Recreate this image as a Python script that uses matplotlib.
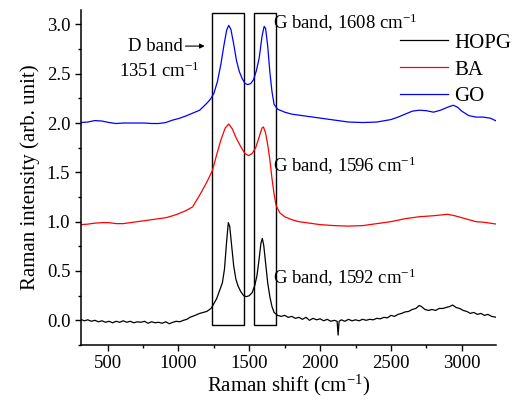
import numpy as np
import matplotlib
matplotlib.use('Agg')
import matplotlib.pyplot as plt
from matplotlib.patches import Rectangle
from matplotlib.ticker import MultipleLocator

plt.rcParams['font.family'] = ['Liberation Serif', 'DejaVu Serif']
plt.rcParams['mathtext.fontset'] = 'custom'
plt.rcParams['mathtext.rm'] = 'Liberation Serif'
plt.rcParams['mathtext.it'] = 'Liberation Serif:italic'

# spectra (Raman shift in cm-1, offset intensities)
hopg_shift = [310, 335, 360, 385, 410, 435, 460, 485, 510, 535, 560, 585, 610, 635, 660,
              685, 710, 735, 760, 785, 810, 835, 860, 885, 910, 935, 960, 985, 1010, 1035,
              1060, 1080, 1100, 1150, 1200, 1230, 1250, 1270, 1290, 1310, 1325, 1340, 1352,
              1362, 1375, 1390, 1405, 1420, 1440, 1460, 1480, 1500, 1520, 1540, 1555, 1570,
              1582, 1592, 1602, 1615, 1630, 1645, 1660, 1675, 1700, 1725, 1750, 1775, 1800,
              1825, 1850, 1875, 1900, 1925, 1950, 1975, 2000, 2025, 2050, 2075, 2100, 2120,
              2127, 2134, 2150, 2175, 2200, 2225, 2250, 2275, 2300, 2325, 2350, 2375, 2400,
              2425, 2450, 2475, 2500, 2525, 2550, 2575, 2600, 2625, 2650, 2675, 2700, 2715,
              2740, 2765, 2790, 2815, 2840, 2865, 2890, 2915, 2935, 2960, 2985, 3010, 3035,
              3060, 3085, 3110, 3135, 3160, 3185, 3210, 3245]
hopg_int = [0.01, -0.005, 0.005, -0.01, 0.0, -0.015, -0.005, -0.02, -0.01, -0.025, -0.01,
            -0.02, -0.005, -0.02, -0.01, -0.025, -0.015, -0.02, -0.01, -0.03, -0.015, -0.025,
            -0.02, -0.03, -0.015, -0.035, -0.02, -0.01, -0.015, 0.0, 0.01, 0.03, 0.04, 0.07,
            0.09, 0.12, 0.17, 0.22, 0.30, 0.38, 0.52, 0.80, 0.99, 0.95, 0.76, 0.55, 0.42, 0.35,
            0.29, 0.25, 0.24, 0.25, 0.28, 0.36, 0.46, 0.63, 0.78, 0.83, 0.76, 0.58, 0.38, 0.24,
            0.14, 0.08, 0.05, 0.04, 0.05, 0.03, 0.04, 0.02, 0.03, 0.01, 0.03, 0.0, 0.02, 0.005,
            0.015, -0.005, 0.01, -0.01, 0.0, -0.01, -0.15, -0.01, 0.005, -0.01, 0.01, -0.005,
            0.005, -0.005, 0.01, 0.0, 0.01, 0.005, 0.02, 0.015, 0.03, 0.025, 0.05, 0.04, 0.06,
            0.07, 0.085, 0.09, 0.11, 0.12, 0.15, 0.14, 0.11, 0.10, 0.11, 0.10, 0.12, 0.12, 0.13,
            0.14, 0.155, 0.13, 0.12, 0.10, 0.09, 0.07, 0.08, 0.06, 0.07, 0.05, 0.06, 0.04, 0.03]

ba_shift = [310, 360, 410, 460, 510, 560, 610, 660, 710, 760, 810, 860, 910, 960, 1000, 1050,
            1100, 1150, 1200, 1240, 1270, 1300, 1330, 1355, 1380, 1410, 1440, 1470, 1495, 1520,
            1545, 1570, 1590, 1600, 1615, 1630, 1645, 1660, 1675, 1690, 1715, 1750, 1800, 1850,
            1900, 1950, 2000, 2100, 2200, 2300, 2400, 2500, 2600, 2700, 2800, 2900, 2950, 3000,
            3050, 3100, 3150, 3200, 3245]
ba_int = [0.97, 0.975, 0.985, 0.99, 0.99, 0.98, 0.98, 0.99, 1.0, 1.01, 1.02, 1.03, 1.04, 1.06,
          1.08, 1.11, 1.15, 1.27, 1.40, 1.52, 1.68, 1.83, 1.95, 1.99, 1.94, 1.84, 1.76, 1.69,
          1.67, 1.69, 1.75, 1.86, 1.95, 1.96, 1.90, 1.78, 1.63, 1.44, 1.28, 1.16, 1.09, 1.05,
          1.02, 1.0, 0.99, 0.98, 0.97, 0.96, 0.955, 0.96, 0.98, 1.0, 1.03, 1.05, 1.06, 1.075,
          1.06, 1.04, 1.02, 1.0, 0.995, 0.985, 0.975]

go_shift = [310, 360, 410, 460, 510, 560, 610, 660, 710, 760, 810, 860, 910, 960, 1000, 1050,
            1100, 1150, 1200, 1225, 1250, 1275, 1300, 1320, 1340, 1355, 1370, 1390, 1410, 1430,
            1450, 1470, 1490, 1510, 1530, 1550, 1570, 1590, 1605, 1615, 1630, 1645, 1660, 1675,
            1700, 1750, 1800, 1850, 1900, 1950, 2000, 2100, 2200, 2300, 2400, 2500, 2550, 2600,
            2650, 2700, 2750, 2800, 2850, 2900, 2940, 2970, 3000, 3050, 3100, 3150, 3200, 3245]
go_int = [2.005, 2.01, 2.025, 2.02, 2.005, 1.995, 2.0, 2.0, 2.0, 2.0, 1.995, 1.995, 2.005, 2.03,
          2.045, 2.07, 2.10, 2.13, 2.20, 2.24, 2.30, 2.42, 2.60, 2.78, 2.94, 2.99, 2.95, 2.80,
          2.63, 2.52, 2.45, 2.40, 2.39, 2.40, 2.44, 2.53, 2.66, 2.88, 2.98, 2.96, 2.78, 2.52,
          2.32, 2.19, 2.14, 2.11, 2.09, 2.08, 2.07, 2.06, 2.05, 2.03, 2.01, 2.005, 2.01, 2.035,
          2.06, 2.09, 2.12, 2.13, 2.125, 2.11, 2.13, 2.16, 2.18, 2.16, 2.12, 2.075, 2.06, 2.06,
          2.05, 2.02]

# band boxes (x range in cm-1)
d_box = (1239, 1465)
g_box = (1533, 1686)
box_y = (-0.05, 3.12)

fig = plt.figure(figsize=(5.31, 4.03), dpi=100)
ax = fig.add_axes([0.152, 0.144, 0.783, 0.831])

ax.plot(hopg_shift, hopg_int, color='k', lw=0.9, label='HOPG')
ax.plot(ba_shift, ba_int, color='r', lw=0.9, label='BA')
ax.plot(go_shift, go_int, color='b', lw=0.9, label='GO')

for x0, x1 in (d_box, g_box):
    ax.add_patch(Rectangle((x0, box_y[0]), x1 - x0, box_y[1] - box_y[0],
                           fill=False, edgecolor='k', lw=1.0))

ax.set_xlim(310, 3245)
ax.set_ylim(-0.25, 3.145)
ax.xaxis.set_major_locator(MultipleLocator(500))
ax.xaxis.set_minor_locator(MultipleLocator(250))
ax.yaxis.set_major_locator(MultipleLocator(0.5))
ax.yaxis.set_minor_locator(MultipleLocator(0.25))
ax.yaxis.set_major_formatter(matplotlib.ticker.FormatStrFormatter('%.1f'))

for side in ('top', 'right'):
    ax.spines[side].set_visible(False)
for side in ('left', 'bottom'):
    ax.spines[side].set_linewidth(1.1)
ax.tick_params(which='major', direction='out', length=4, width=1.0, labelsize=13.5)
ax.tick_params(which='minor', direction='out', length=2.5, width=1.0)

ax.set_xlabel('Raman shift (cm$^{-1}$)', fontsize=15, labelpad=0)
ax.set_ylabel('Raman intensity (arb. unit)', fontsize=15, labelpad=5)

ann_fs = 13.5
ax.annotate('D band', xy=(1185, 2.78), xytext=(1030, 2.78),
            fontsize=ann_fs, ha='right', va='center',
            arrowprops=dict(arrowstyle='-|>', color='k', lw=0.8,
                            mutation_scale=7, shrinkA=0, shrinkB=0))
ax.text(1150, 2.52, '1351 cm$^{-1}$', fontsize=ann_fs, ha='right', va='center')
ax.text(1668, 3.01, 'G band, 1608 cm$^{-1}$', fontsize=ann_fs, ha='left', va='center')
ax.text(1668, 1.57, 'G band, 1596 cm$^{-1}$', fontsize=ann_fs, ha='left', va='center')
ax.text(1668, 0.435, 'G band, 1592 cm$^{-1}$', fontsize=ann_fs, ha='left', va='center')

fig.legend(loc='upper left', bbox_to_anchor=(0.753, 0.918), frameon=False,
           fontsize=15, handlelength=2.3, handletextpad=0.3, labelspacing=0.35,
           borderpad=0, borderaxespad=0)

fig.savefig('out.png', dpi=100)
